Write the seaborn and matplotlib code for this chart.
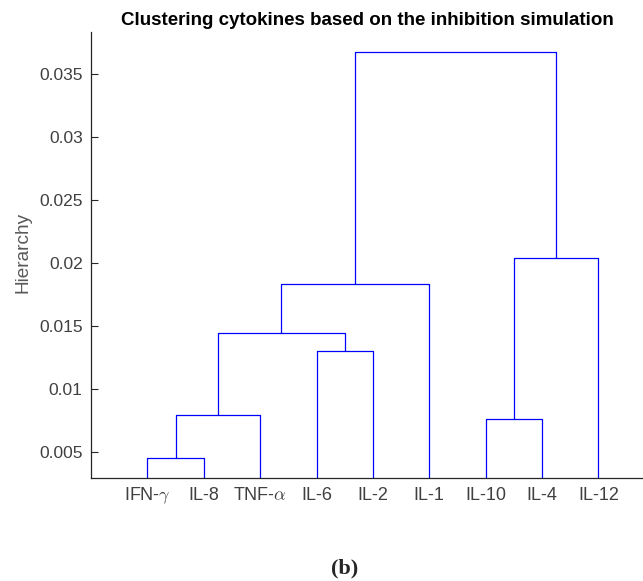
import numpy as np
import pandas as pd
import matplotlib
matplotlib.use("Agg")
import matplotlib.pyplot as plt
import seaborn as sns

# Leaves in dendrogram order
leaf_labels = [r"IFN-$\gamma$", "IL-8", r"TNF-$\alpha$", "IL-6", "IL-2", "IL-1", "IL-10", "IL-4", "IL-12"]
# Linkage: node ids 0..8 are leaves, new clusters get ids 9, 10, ...
merge_left = [0, 9, 3, 10, 12, 6, 14, 13]
merge_right = [1, 2, 4, 11, 5, 7, 8, 15]
merge_height = [0.0045, 0.0079, 0.0130, 0.0144, 0.0183, 0.0076, 0.0204, 0.0367]

yticks = [0.005, 0.01, 0.015, 0.02, 0.025, 0.03, 0.035]
ytick_labels = ["0.005", "0.01", "0.015", "0.02", "0.025", "0.03", "0.035"]

sns.set_theme(style="white")
plt.rcParams["font.family"] = ["Liberation Sans", "DejaVu Sans"]
plt.rcParams["mathtext.fontset"] = "cm"

n = len(leaf_labels)
pos = {i: i + 1.0 for i in range(n)}
hgt = {i: 0.0 for i in range(n)}
rows = []
for k, (a, b, h) in enumerate(zip(merge_left, merge_right, merge_height)):
    xa, xb = pos[a], pos[b]
    ya, yb = hgt[a], hgt[b]
    for j, (xx, yy) in enumerate([(xa, ya), (xa, h), (xb, h), (xb, yb)]):
        rows.append({"link": k, "order": j, "x": xx, "y": yy})
    nid = n + k
    pos[nid] = (xa + xb) / 2
    hgt[nid] = h
df = pd.DataFrame(rows)

fig = plt.figure(figsize=(6.43, 5.81), dpi=100)
ax = fig.add_axes([91 / 643, 103 / 581, 552 / 643, 446 / 581])
sns.lineplot(data=df, x="x", y="y", units="link", estimator=None, sort=False,
             color="#0000ff", linewidth=0.9, ax=ax, legend=False)

ax.set_xlim(0, 9.79)
ax.set_ylim(0.00294, 0.0383)
ax.set_xticks(range(1, n + 1))
ax.set_xticklabels(leaf_labels)
ax.set_yticks(yticks)
ax.set_yticklabels(ytick_labels)
ax.tick_params(axis="y", direction="in", length=5, width=0.8, pad=6,
               labelsize=12.5, colors="#262626", labelcolor="#404040", left=True)
ax.tick_params(axis="x", length=0, pad=16, labelsize=13, labelcolor="#404040")
for lab in ax.get_xticklabels():
    lab.set_verticalalignment("baseline")
for s in ["top", "right"]:
    ax.spines[s].set_visible(False)
for s in ["left", "bottom"]:
    ax.spines[s].set_color("#262626")
    ax.spines[s].set_linewidth(0.9)

ax.set_xlabel("")
ax.set_ylabel("Hierarchy", fontsize=13.7, color="#595959")
ax.yaxis.set_label_coords(-0.107, 0.505)
ax.set_title("Clustering cytokines based on the inhibition simulation",
             fontsize=13.5, fontweight="bold", color="black", pad=5)

fig.text(345 / 643, 1 - 568 / 581, "(b)", ha="center", va="center",
         fontsize=16, fontweight="bold", family="Liberation Serif")

fig.savefig("out.png", dpi=100)
